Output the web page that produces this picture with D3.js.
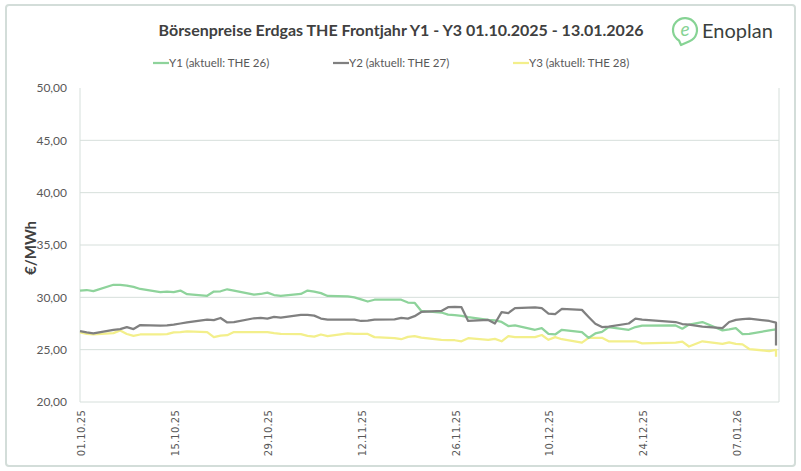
<!DOCTYPE html>
<html>
<head>
<meta charset="utf-8">
<script src="https://cdn.jsdelivr.net/npm/d3@7"></script>
<style>
	body { margin: 0; background: #fff; }
	svg { display: block; }
</style>
</head>
<body>
<svg id="chart" width="801" height="471"></svg>
<script>

// trading days, 01.10.2025 - 13.01.2026 (last day has two quotes)
var dates = [
	'2025-10-01', '2025-10-02', '2025-10-03', '2025-10-06', '2025-10-07', '2025-10-08', '2025-10-09', '2025-10-10',
	'2025-10-13', '2025-10-14', '2025-10-15', '2025-10-16', '2025-10-17', '2025-10-20', '2025-10-21', '2025-10-22',
	'2025-10-23', '2025-10-24', '2025-10-27', '2025-10-28', '2025-10-29', '2025-10-30', '2025-10-31', '2025-11-03',
	'2025-11-04', '2025-11-05', '2025-11-06', '2025-11-07', '2025-11-10', '2025-11-11', '2025-11-12', '2025-11-13',
	'2025-11-14', '2025-11-17', '2025-11-18', '2025-11-19', '2025-11-20', '2025-11-21', '2025-11-24', '2025-11-25',
	'2025-11-26', '2025-11-27', '2025-11-28', '2025-12-01', '2025-12-02', '2025-12-03', '2025-12-04', '2025-12-05',
	'2025-12-08', '2025-12-09', '2025-12-10', '2025-12-11', '2025-12-12', '2025-12-15', '2025-12-16', '2025-12-17',
	'2025-12-18', '2025-12-19', '2025-12-22', '2025-12-23', '2025-12-24', '2025-12-29', '2025-12-30', '2025-12-31',
	'2026-01-02', '2026-01-05', '2026-01-06', '2026-01-07', '2026-01-08', '2026-01-09', '2026-01-12', '2026-01-13',
	'2026-01-13'
];

var y1 = [
	30.65, 30.70, 30.60, 31.20, 31.20, 31.12, 31.00, 30.80,
	30.50, 30.55, 30.50, 30.65, 30.30, 30.15, 30.55, 30.58,
	30.77, 30.65, 30.26, 30.32, 30.45, 30.22, 30.13, 30.32,
	30.65, 30.55, 30.40, 30.13, 30.10, 30.00, 29.80, 29.60,
	29.77, 29.77, 29.77, 29.50, 29.48, 28.70, 28.55, 28.35,
	28.30, 28.23, 28.10, 27.84, 27.80, 27.65, 27.26, 27.32,
	26.90, 27.06, 26.50, 26.45, 26.90, 26.68, 26.13, 26.55,
	26.70, 27.16, 26.90, 27.16, 27.30, 27.32, 27.00, 27.39,
	27.64, 26.84, 26.94, 27.06, 26.48, 26.50, 26.84, 26.94,
	26.94
];

var y2 = [
	26.77, 26.65, 26.55, 26.90, 26.97, 27.16, 26.97, 27.35,
	27.30, 27.32, 27.40, 27.50, 27.60, 27.87, 27.82, 28.03,
	27.60, 27.64, 28.00, 28.03, 27.97, 28.13, 28.07, 28.32,
	28.32, 28.25, 27.97, 27.87, 27.87, 27.87, 27.74, 27.77,
	27.87, 27.90, 28.03, 27.97, 28.20, 28.60, 28.70, 29.06,
	29.10, 29.06, 27.74, 27.84, 27.50, 28.58, 28.50, 28.97,
	29.03, 28.97, 28.45, 28.40, 28.90, 28.80, 28.13, 27.48,
	27.16, 27.20, 27.50, 27.97, 27.87, 27.64, 27.45, 27.40,
	27.20, 27.06, 27.64, 27.84, 27.92, 27.97, 27.74, 27.58,
	25.40
];

var y3 = [
	26.65, 26.50, 26.45, 26.58, 26.84, 26.50, 26.32, 26.45,
	26.45, 26.48, 26.65, 26.68, 26.74, 26.68, 26.20, 26.35,
	26.38, 26.68, 26.68, 26.68, 26.68, 26.58, 26.52, 26.48,
	26.32, 26.25, 26.45, 26.30, 26.55, 26.50, 26.50, 26.50,
	26.20, 26.10, 26.00, 26.22, 26.30, 26.15, 25.94, 25.90,
	25.90, 25.80, 26.10, 25.94, 26.03, 25.80, 26.30, 26.20,
	26.20, 26.40, 25.94, 26.20, 26.00, 25.68, 26.13, 26.13,
	26.13, 25.80, 25.80, 25.80, 25.60, 25.68, 25.77, 25.30,
	25.80, 25.55, 25.70, 25.55, 25.50, 25.06, 24.87, 24.97,
	24.33
];

var seriesNames = [ 'Y1 (aktuell: THE 26)', 'Y2 (aktuell: THE 27)', 'Y3 (aktuell: THE 28)' ];
var seriesColors = [ '#8ed39b', '#808080', '#f3ef8b' ];
var yTicks = [ 20, 25, 30, 35, 40, 45, 50 ];
var xTickDates = [ '2025-10-01', '2025-10-15', '2025-10-29', '2025-11-12', '2025-11-26', '2025-12-10', '2025-12-24', '2026-01-07' ];

var title = 'Börsenpreise Erdgas THE Frontjahr Y1 - Y3 01.10.2025 - 13.01.2026';

var parse = d3.timeParse( '%Y-%m-%d' );
var fmt = d3.timeFormat( '%d.%m.%y' );

var svg = d3.select( '#chart' );

// outer frame
svg.append( 'rect' )
	.attr( 'x', 6 ).attr( 'y', 5 )
	.attr( 'width', 789 ).attr( 'height', 461 )
	.attr( 'rx', 3 )
	.style( 'fill', '#fff' )
	.style( 'stroke', '#d3ddd9' )
	.style( 'stroke-width', 2 );

var plot = { left: 80, right: 779, top: 88, bottom: 402 };

var x = d3.scaleTime()
	.domain( [ parse( '2025-10-01' ), parse( '2026-01-13' ) ] )
	.range( [ plot.left, 776 ] );

var y = d3.scaleLinear()
	.domain( [ 20, 50 ] )
	.range( [ plot.bottom, plot.top ] );

// grid
svg.append( 'g' )
	.selectAll( 'line' )
	.data( yTicks.filter( function ( d ) { return d > 20 && d < 50; } ) )
	.enter()
	.append( 'line' )
	.attr( 'x1', plot.left ).attr( 'x2', plot.right )
	.attr( 'y1', function ( d ) { return y( d ); } )
	.attr( 'y2', function ( d ) { return y( d ); } )
	.style( 'stroke', '#d6dfdb' )
	.style( 'stroke-width', 1 );

svg.append( 'path' )
	.attr( 'd', 'M' + plot.left + ',' + plot.top + 'V' + plot.bottom + 'H' + plot.right + 'V' + plot.top )
	.style( 'fill', 'none' )
	.style( 'stroke', '#d6dfdb' )
	.style( 'stroke-width', 1 );

// y axis
var yAxis = d3.axisLeft( y )
	.tickValues( yTicks )
	.tickSize( 0 )
	.tickPadding( 13 )
	.tickFormat( function ( d ) { return d3.format( '.2f' )( d ).replace( '.', ',' ); } );

var yg = svg.append( 'g' )
	.attr( 'transform', 'translate(' + plot.left + ',0)' )
	.call( yAxis );
yg.select( '.domain' ).remove();
yg.selectAll( 'text' )
	.style( 'font-family', 'Lato, sans-serif' )
	.style( 'font-size', '12px' )
	.style( 'fill', '#595959' );

// x axis
var xAxis = d3.axisBottom( x )
	.tickValues( xTickDates.map( parse ) )
	.tickSize( 0 )
	.tickFormat( fmt );

var xg = svg.append( 'g' )
	.attr( 'transform', 'translate(0,' + plot.bottom + ')' )
	.call( xAxis );
xg.select( '.domain' ).remove();
xg.selectAll( 'text' )
	.attr( 'transform', 'translate(1,8) rotate(-90)' )
	.attr( 'x', 0 ).attr( 'y', 0 )
	.attr( 'dy', '0.35em' )
	.style( 'text-anchor', 'end' )
	.style( 'font-family', '"DejaVu Sans", sans-serif' )
	.style( 'font-size', '10px' )
	.style( 'letter-spacing', '0.2px' )
	.style( 'fill', '#595959' );

// y title
svg.append( 'text' )
	.attr( 'transform', 'translate(36,248) rotate(-90)' )
	.style( 'text-anchor', 'middle' )
	.style( 'font-family', 'Lato, sans-serif' )
	.style( 'font-weight', 'bold' )
	.style( 'font-size', '15px' )
	.style( 'fill', '#404040' )
	.text( '€/MWh' );

// lines
var rows = dates.map( function ( d, i ) {
	return { date: parse( d ), v: [ y1[i], y2[i], y3[i] ] };
} );

var lines = svg.append( 'g' );
[ 2, 0, 1 ].forEach( function ( s ) {
	var line = d3.line()
		.x( function ( d ) { return x( d.date ); } )
		.y( function ( d ) { return y( d.v[s] ); } );
	lines.append( 'path' )
		.datum( rows )
		.attr( 'd', line )
		.style( 'fill', 'none' )
		.style( 'stroke', seriesColors[s] )
		.style( 'stroke-width', 2.25 )
		.style( 'stroke-linejoin', 'round' );
} );

// title
svg.append( 'text' )
	.attr( 'x', 401 ).attr( 'y', 36 )
	.style( 'text-anchor', 'middle' )
	.style( 'font-family', 'Lato, sans-serif' )
	.style( 'font-weight', 'bold' )
	.style( 'font-size', '16px' )
	.style( 'fill', '#404040' )
	.text( title );

// legend
var legendX = [ 153, 333, 513 ];
var legend = svg.append( 'g' ).selectAll( 'g' )
	.data( seriesNames )
	.enter()
	.append( 'g' )
	.attr( 'transform', function ( d, i ) { return 'translate(' + legendX[i] + ',63)'; } );
legend.append( 'line' )
	.attr( 'x1', 0 ).attr( 'x2', 16 )
	.style( 'stroke', function ( d, i ) { return seriesColors[i]; } )
	.style( 'stroke-width', 2.25 );
legend.append( 'text' )
	.attr( 'x', 16 ).attr( 'dy', '0.35em' )
	.style( 'font-family', 'Lato, sans-serif' )
	.style( 'font-size', '11.5px' )
	.style( 'fill', '#595959' )
	.text( function ( d ) { return d; } );

// logo
var logo = svg.append( 'g' ).attr( 'transform', 'translate(685,30)' );
logo.append( 'path' )
	.attr( 'd', 'M-6,10.5 A12,12 0 1 1 4.5,11.2 L-4,15 Z' )
	.style( 'fill', 'none' )
	.style( 'stroke', '#86d394' )
	.style( 'stroke-width', 2.2 )
	.style( 'stroke-linejoin', 'round' );
logo.append( 'text' )
	.attr( 'x', 0 ).attr( 'y', 6 )
	.style( 'text-anchor', 'middle' )
	.style( 'font-family', 'Lato, sans-serif' )
	.style( 'font-style', 'italic' )
	.style( 'font-size', '19px' )
	.style( 'fill', '#86d394' )
	.text( 'e' );
svg.append( 'text' )
	.attr( 'x', 702 ).attr( 'y', 38 )
	.style( 'font-family', 'Lato, sans-serif' )
	.style( 'font-size', '20px' )
	.style( 'fill', '#3a3f3d' )
	.text( 'Enoplan' );

</script>
</body>
</html>
